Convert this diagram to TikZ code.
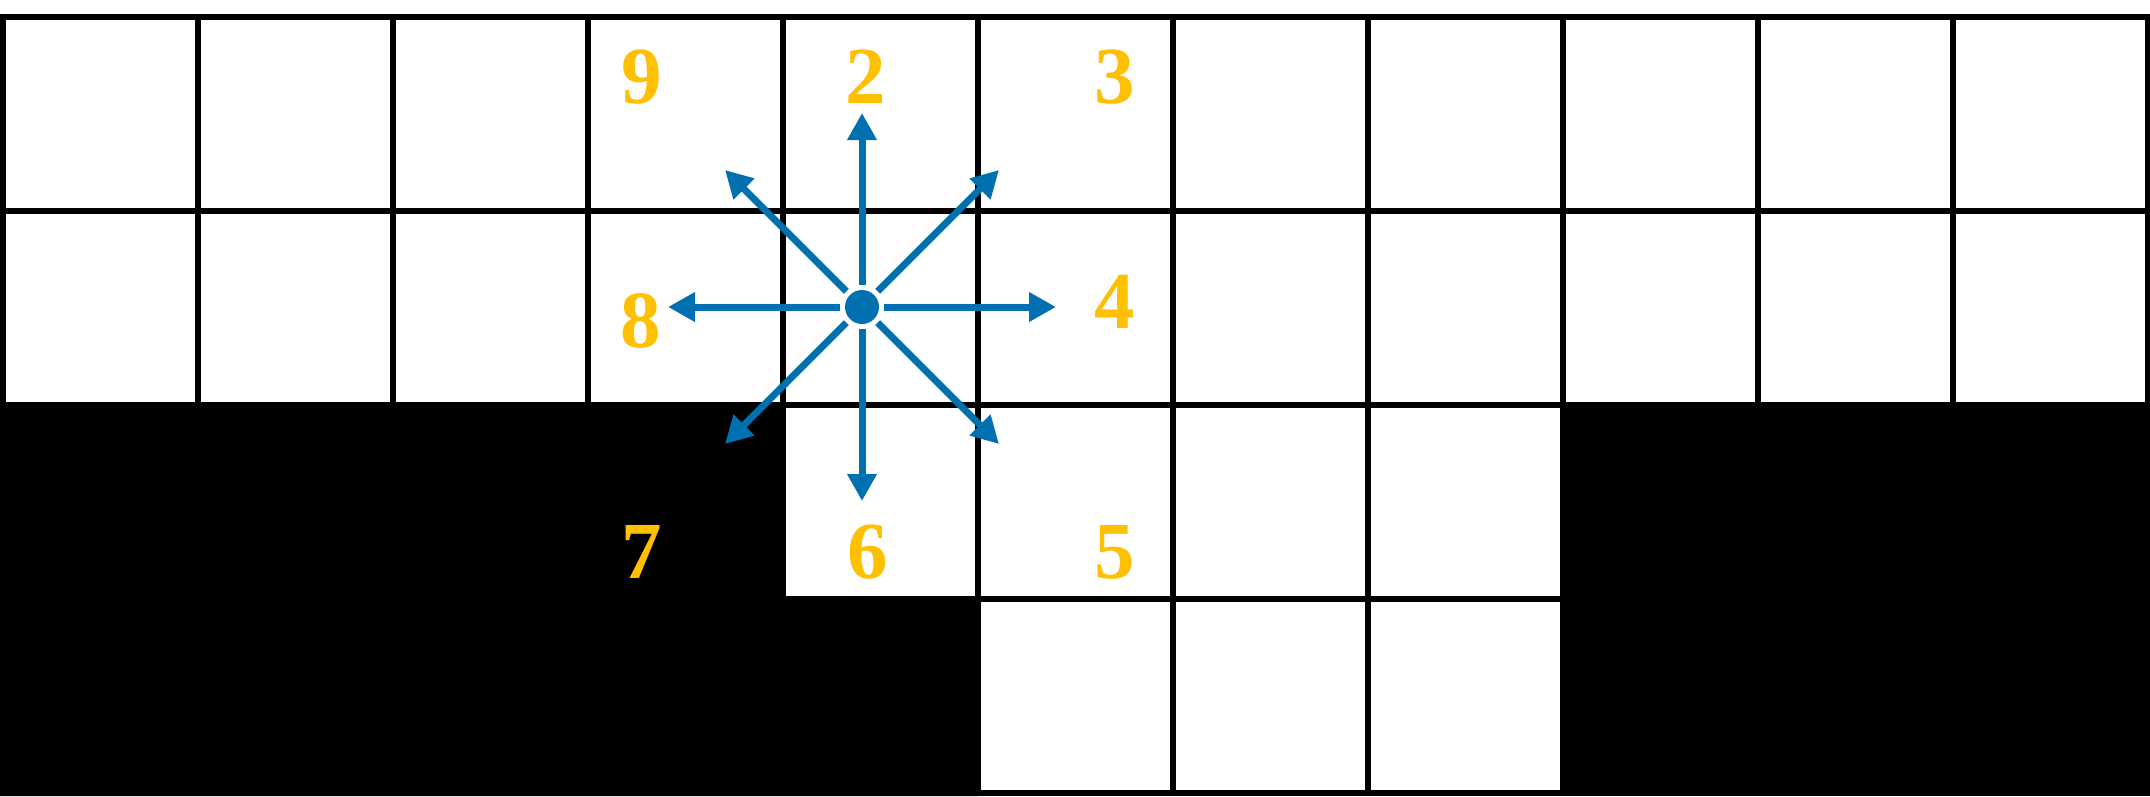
\documentclass[tikz,border=0pt]{standalone}
\usepackage{fontspec}
\setmainfont{Liberation Serif}
\newfontfamily\digitfont{Liberation Serif Bold}
\usetikzlibrary{arrows.meta}
\definecolor{arrowblue}{RGB}{0,112,176}
\definecolor{labelgold}{RGB}{255,192,0}
\begin{document}
\begin{tikzpicture}[x=1pt,y=-1pt,
  gridline/.style={line width=6pt,black},
  blockfill/.style={fill=black},
  dirlabel/.style={text=labelgold,font=\digitfont\fontsize{81}{90}\selectfont,inner sep=0pt},
  dirarrow/.style={arrowblue,line width=7pt,shorten <=5pt,-{Triangle[length=27pt,width=28pt]}},
  centerdot/.style={circle,fill=arrowblue,minimum size=34pt,inner sep=0pt}]
\useasboundingbox (0,0) rectangle (2150,796);
\fill[white] (0,0) rectangle (2150,796);
% black regions
\fill[blockfill] (0,404.5) -- (782.5,404.5) -- (782.5,598.5) -- (977.5,598.5) -- (977.5,796) -- (0,796) -- cycle;
\fill[blockfill] (1562.5,404.5) rectangle (2150,796);
% grid
\foreach \i in {0,...,11} \draw[gridline] ({3+195*\i},16.5) -- ({3+195*\i},792.5);
\foreach \j in {0,...,4} \draw[gridline] (0,{16.5+194*\j}) -- (2150,{16.5+194*\j});
% labels
\node[dirlabel] (l9) at (642,77) {9};
\node[dirlabel] (l2) at (866,77) {2};
\node[dirlabel] (l3) at (1115,77) {3};
\node[dirlabel] (l8) at (641,321) {8};
\node[dirlabel] (l4) at (1115,302) {4};
\node[dirlabel] (l7) at (642,552) {7};
\node[dirlabel] (l6) at (868,552) {6};
\node[dirlabel] (l5) at (1115,552) {5};
% centre and arrows
\node[centerdot] (c) at (862,307) {};
\coordinate (t2) at (862,113);
\coordinate (t3) at (999,170);
\coordinate (t4) at (1056,307);
\coordinate (t5) at (999,444);
\coordinate (t6) at (862,501);
\coordinate (t7) at (725,444);
\coordinate (t8) at (668,307);
\coordinate (t9) at (725,170);
\foreach \t in {t2,t3,t4,t5,t6,t7,t8,t9} \draw[dirarrow] (c) -- (\t);
\end{tikzpicture}
\end{document}
